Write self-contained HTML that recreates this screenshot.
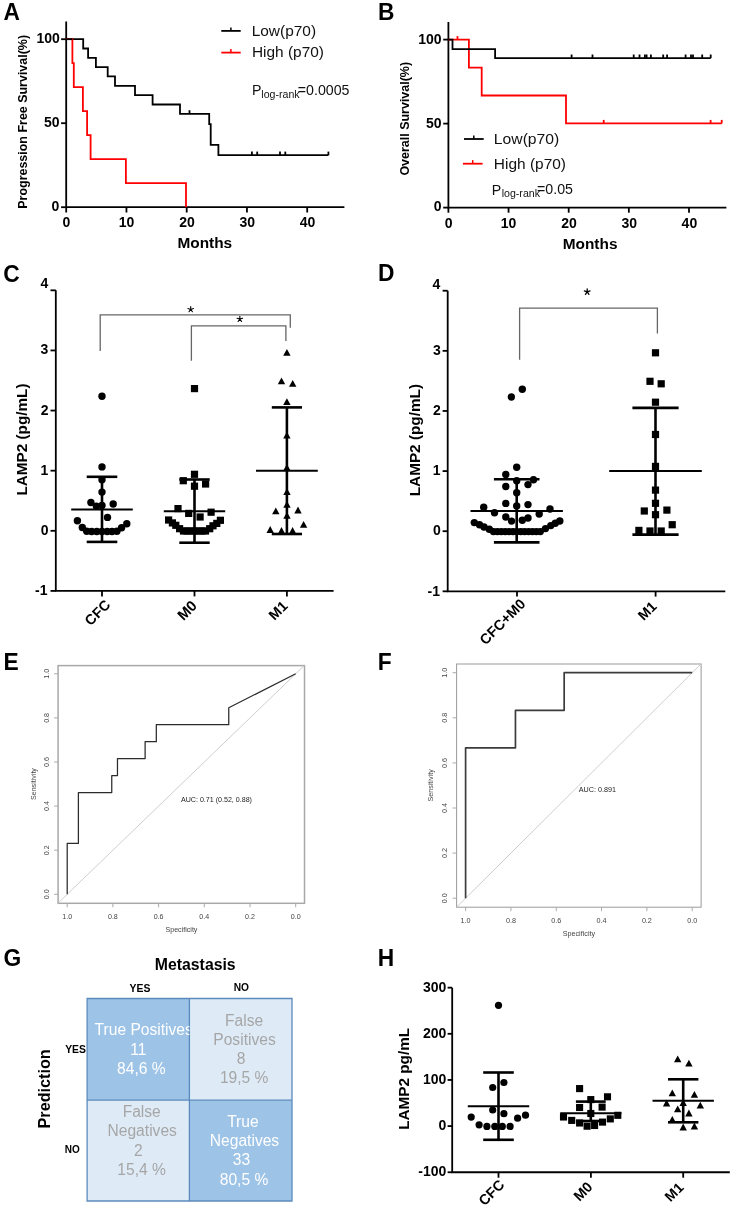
<!DOCTYPE html>
<html><head><meta charset="utf-8"><title>Figure</title>
<style>
html,body{margin:0;padding:0;background:#fff;}
svg{display:block;font-family:"Liberation Sans", sans-serif;will-change:transform;}
</style></head>
<body>
<svg width="733" height="1211" viewBox="0 0 733 1211">
<rect width="733" height="1211" fill="#fff"/>
<text transform="translate(3.44,20.00) scale(0.9500,1)" font-size="24.00" font-weight="bold" fill="#000">A</text>
<text transform="translate(378.11,19.80) scale(0.9500,1)" font-size="24.00" font-weight="bold" fill="#000">B</text>
<text transform="translate(3.17,281.56) scale(0.9500,1)" font-size="24.00" font-weight="bold" fill="#000">C</text>
<text transform="translate(378.06,281.30) scale(0.9500,1)" font-size="24.00" font-weight="bold" fill="#000">D</text>
<text transform="translate(3.48,669.80) scale(0.9500,1)" font-size="24.00" font-weight="bold" fill="#000">E</text>
<text transform="translate(377.70,669.80) scale(0.9500,1)" font-size="24.00" font-weight="bold" fill="#000">F</text>
<text transform="translate(3.59,966.06) scale(0.9500,1)" font-size="24.00" font-weight="bold" fill="#000">G</text>
<text transform="translate(377.79,966.00) scale(0.9500,1)" font-size="24.00" font-weight="bold" fill="#000">H</text>
<path d="M66.2 21.6V207.2H344.4" stroke="#000" stroke-width="1.8" fill="none" />
<line x1="61.10" y1="39.20" x2="66.20" y2="39.20" stroke="#000" stroke-width="1.8"/>
<line x1="61.10" y1="123.20" x2="66.20" y2="123.20" stroke="#000" stroke-width="1.8"/>
<line x1="61.10" y1="207.20" x2="66.20" y2="207.20" stroke="#000" stroke-width="1.8"/>
<text transform="translate(36.45,43.33) scale(1.0000,1)" font-size="14.00" font-weight="bold" fill="#000">100</text>
<text transform="translate(43.92,127.13) scale(1.0000,1)" font-size="14.00" font-weight="bold" fill="#000">50</text>
<text transform="translate(51.59,211.03) scale(1.0000,1)" font-size="14.00" font-weight="bold" fill="#000">0</text>
<line x1="66.20" y1="207.20" x2="66.20" y2="212.50" stroke="#000" stroke-width="1.8"/>
<text transform="translate(62.52,227.23) scale(1.0000,1)" font-size="14.00" font-weight="bold" fill="#000">0</text>
<line x1="126.45" y1="207.20" x2="126.45" y2="212.50" stroke="#000" stroke-width="1.8"/>
<text transform="translate(118.71,227.23) scale(1.0000,1)" font-size="14.00" font-weight="bold" fill="#000">10</text>
<line x1="186.70" y1="207.20" x2="186.70" y2="212.50" stroke="#000" stroke-width="1.8"/>
<text transform="translate(179.16,227.23) scale(1.0000,1)" font-size="14.00" font-weight="bold" fill="#000">20</text>
<line x1="246.95" y1="207.20" x2="246.95" y2="212.50" stroke="#000" stroke-width="1.8"/>
<text transform="translate(239.48,227.23) scale(1.0000,1)" font-size="14.00" font-weight="bold" fill="#000">30</text>
<line x1="307.20" y1="207.20" x2="307.20" y2="212.50" stroke="#000" stroke-width="1.8"/>
<text transform="translate(299.81,227.23) scale(1.0000,1)" font-size="14.00" font-weight="bold" fill="#000">40</text>
<text transform="translate(177.40,247.65) scale(1.0494,1)" font-size="14.69" font-weight="bold" fill="#000" >Months</text>
<text transform="translate(27.22,208.71) rotate(-90) scale(1.0131,1)" font-size="12.30" font-weight="bold" fill="#000" >Progression Free Survival(%)</text>
<path d="M66.2 39.2H83.2V48.5H88.1V57.8H95.9V67.2H107.7V76.4H115V85.8H135V95.2H152.6V104.5H180V113.8H209.2V124.1H210.7V144.8H218.4V155.2H328.4" stroke="#000" stroke-width="1.8" fill="none" />
<line x1="189.50" y1="113.80" x2="189.50" y2="110.20" stroke="#000" stroke-width="1.8"/>
<line x1="251.90" y1="155.20" x2="251.90" y2="151.60" stroke="#000" stroke-width="1.8"/>
<line x1="257.20" y1="155.20" x2="257.20" y2="151.60" stroke="#000" stroke-width="1.8"/>
<line x1="280.00" y1="155.20" x2="280.00" y2="151.60" stroke="#000" stroke-width="1.8"/>
<line x1="285.30" y1="155.20" x2="285.30" y2="151.60" stroke="#000" stroke-width="1.8"/>
<line x1="328.40" y1="155.20" x2="328.40" y2="151.60" stroke="#000" stroke-width="1.8"/>
<path d="M66.2 39.2H72.4V63.2H73.8V87.2H82.9V111.2H87.1V135.2H90.6V159.2H125.9V183.2H186V207.2" stroke="#ff0000" stroke-width="1.8" fill="none" />
<path d="M66.2 39.2H72.4" stroke="#000" stroke-width="1.8" fill="none" />
<line x1="221.30" y1="30.90" x2="240.70" y2="30.90" stroke="#000" stroke-width="1.8"/>
<line x1="230.90" y1="30.90" x2="230.90" y2="27.40" stroke="#000" stroke-width="1.5"/>
<line x1="221.30" y1="52.60" x2="240.70" y2="52.60" stroke="#ff0000" stroke-width="1.8"/>
<line x1="230.90" y1="52.60" x2="230.90" y2="49.10" stroke="#ff0000" stroke-width="1.5"/>
<text transform="translate(251.66,35.98) scale(1.0412,1)" font-size="14.87" fill="#111" >Low(p70)</text>
<text transform="translate(251.97,57.20) scale(1.0451,1)" font-size="14.76" fill="#111" >High (p70)</text>
<text transform="translate(251.96,94.60) scale(1.0000,1)" font-size="14.20" fill="#111">P</text>
<text transform="translate(261.31,97.67) scale(1.0000,1)" font-size="10.60" fill="#111">log-rank</text>
<text transform="translate(297.78,95.06) scale(1.0000,1)" font-size="14.20" fill="#111">=0.0005</text>
<path d="M448.4 22V207.6H726.4" stroke="#000" stroke-width="1.8" fill="none" />
<line x1="443.20" y1="39.60" x2="448.40" y2="39.60" stroke="#000" stroke-width="1.8"/>
<line x1="443.20" y1="123.60" x2="448.40" y2="123.60" stroke="#000" stroke-width="1.8"/>
<line x1="443.20" y1="207.60" x2="448.40" y2="207.60" stroke="#000" stroke-width="1.8"/>
<text transform="translate(418.25,43.63) scale(1.0000,1)" font-size="14.00" font-weight="bold" fill="#000">100</text>
<text transform="translate(426.02,127.73) scale(1.0000,1)" font-size="14.00" font-weight="bold" fill="#000">50</text>
<text transform="translate(433.79,211.13) scale(1.0000,1)" font-size="14.00" font-weight="bold" fill="#000">0</text>
<line x1="448.40" y1="207.60" x2="448.40" y2="212.70" stroke="#000" stroke-width="1.8"/>
<text transform="translate(444.71,227.63) scale(1.0000,1)" font-size="14.00" font-weight="bold" fill="#000">0</text>
<line x1="508.55" y1="207.60" x2="508.55" y2="212.70" stroke="#000" stroke-width="1.8"/>
<text transform="translate(500.80,227.63) scale(1.0000,1)" font-size="14.00" font-weight="bold" fill="#000">10</text>
<line x1="568.70" y1="207.60" x2="568.70" y2="212.70" stroke="#000" stroke-width="1.8"/>
<text transform="translate(561.16,227.63) scale(1.0000,1)" font-size="14.00" font-weight="bold" fill="#000">20</text>
<line x1="628.85" y1="207.60" x2="628.85" y2="212.70" stroke="#000" stroke-width="1.8"/>
<text transform="translate(621.38,227.63) scale(1.0000,1)" font-size="14.00" font-weight="bold" fill="#000">30</text>
<line x1="689.00" y1="207.60" x2="689.00" y2="212.70" stroke="#000" stroke-width="1.8"/>
<text transform="translate(681.61,227.63) scale(1.0000,1)" font-size="14.00" font-weight="bold" fill="#000">40</text>
<text transform="translate(562.70,249.25) scale(1.0490,1)" font-size="14.69" font-weight="bold" fill="#000" >Months</text>
<text transform="translate(409.44,175.60) rotate(-90) scale(1.0242,1)" font-size="12.19" font-weight="bold" fill="#000" >Overall Survival(%)</text>
<path d="M448.4 39.6H468.9V67.6H481.7V95.5H566.0V123.4H721.7" stroke="#ff0000" stroke-width="1.8" fill="none" />
<line x1="457.50" y1="39.60" x2="457.50" y2="36.10" stroke="#ff0000" stroke-width="1.8"/>
<line x1="603.70" y1="123.40" x2="603.70" y2="119.90" stroke="#ff0000" stroke-width="1.8"/>
<line x1="710.60" y1="123.40" x2="710.60" y2="119.90" stroke="#ff0000" stroke-width="1.8"/>
<line x1="721.70" y1="123.40" x2="721.70" y2="119.90" stroke="#ff0000" stroke-width="1.8"/>
<path d="M448.4 39.6H452.5V49.2H495.1V58.2H710.7" stroke="#000" stroke-width="1.8" fill="none" />
<line x1="571.60" y1="58.20" x2="571.60" y2="54.50" stroke="#000" stroke-width="1.8"/>
<line x1="592.50" y1="58.20" x2="592.50" y2="54.50" stroke="#000" stroke-width="1.8"/>
<line x1="633.70" y1="58.20" x2="633.70" y2="54.50" stroke="#000" stroke-width="1.8"/>
<line x1="639.50" y1="58.20" x2="639.50" y2="54.50" stroke="#000" stroke-width="1.8"/>
<line x1="644.90" y1="58.20" x2="644.90" y2="54.50" stroke="#000" stroke-width="1.8"/>
<line x1="646.60" y1="58.20" x2="646.60" y2="54.50" stroke="#000" stroke-width="1.8"/>
<line x1="650.90" y1="58.20" x2="650.90" y2="54.50" stroke="#000" stroke-width="1.8"/>
<line x1="663.20" y1="58.20" x2="663.20" y2="54.50" stroke="#000" stroke-width="1.8"/>
<line x1="667.10" y1="58.20" x2="667.10" y2="54.50" stroke="#000" stroke-width="1.8"/>
<line x1="685.60" y1="58.20" x2="685.60" y2="54.50" stroke="#000" stroke-width="1.8"/>
<line x1="691.00" y1="58.20" x2="691.00" y2="54.50" stroke="#000" stroke-width="1.8"/>
<line x1="693.00" y1="58.20" x2="693.00" y2="54.50" stroke="#000" stroke-width="1.8"/>
<line x1="702.20" y1="58.20" x2="702.20" y2="54.50" stroke="#000" stroke-width="1.8"/>
<line x1="710.70" y1="58.20" x2="710.70" y2="54.50" stroke="#000" stroke-width="1.8"/>
<line x1="464.00" y1="139.00" x2="483.70" y2="139.00" stroke="#000" stroke-width="1.8"/>
<line x1="473.80" y1="139.00" x2="473.80" y2="135.40" stroke="#000" stroke-width="1.5"/>
<line x1="462.90" y1="163.70" x2="482.60" y2="163.70" stroke="#ff0000" stroke-width="1.8"/>
<line x1="472.70" y1="163.70" x2="472.70" y2="160.10" stroke="#ff0000" stroke-width="1.5"/>
<text transform="translate(493.84,143.98) scale(1.0562,1)" font-size="14.87" fill="#111" >Low(p70)</text>
<text transform="translate(493.86,168.89) scale(1.0115,1)" font-size="15.29" fill="#111" >High (p70)</text>
<text transform="translate(491.86,194.60) scale(1.0000,1)" font-size="14.20" fill="#111">P</text>
<text transform="translate(501.71,197.37) scale(1.0000,1)" font-size="10.60" fill="#111">log-rank</text>
<text transform="translate(537.04,194.46) scale(1.0000,1)" font-size="14.20" fill="#111">=0.05</text>
<path d="M55.8 290.31999999999994V590.92H333.6" stroke="#000" stroke-width="1.8" fill="none" />
<line x1="50.50" y1="290.32" x2="55.80" y2="290.32" stroke="#000" stroke-width="1.8"/>
<line x1="50.50" y1="350.44" x2="55.80" y2="350.44" stroke="#000" stroke-width="1.8"/>
<line x1="50.50" y1="410.56" x2="55.80" y2="410.56" stroke="#000" stroke-width="1.8"/>
<line x1="50.50" y1="470.68" x2="55.80" y2="470.68" stroke="#000" stroke-width="1.8"/>
<line x1="50.50" y1="530.80" x2="55.80" y2="530.80" stroke="#000" stroke-width="1.8"/>
<line x1="50.50" y1="590.92" x2="55.80" y2="590.92" stroke="#000" stroke-width="1.8"/>
<text transform="translate(40.60,288.33) scale(1.0000,1)" font-size="14.00" font-weight="bold" fill="#000">4</text>
<text transform="translate(40.62,354.47) scale(1.0000,1)" font-size="14.00" font-weight="bold" fill="#000">3</text>
<text transform="translate(40.69,414.66) scale(1.0000,1)" font-size="14.00" font-weight="bold" fill="#000">2</text>
<text transform="translate(40.48,474.71) scale(1.0000,1)" font-size="14.00" font-weight="bold" fill="#000">1</text>
<text transform="translate(40.69,534.83) scale(1.0000,1)" font-size="14.00" font-weight="bold" fill="#000">0</text>
<text transform="translate(35.09,595.45) scale(1.0000,1)" font-size="14.00" font-weight="bold" fill="#000">-1</text>
<line x1="102.00" y1="590.92" x2="102.00" y2="596.40" stroke="#000" stroke-width="1.8"/>
<line x1="194.50" y1="590.92" x2="194.50" y2="596.40" stroke="#000" stroke-width="1.8"/>
<line x1="286.90" y1="590.92" x2="286.90" y2="596.40" stroke="#000" stroke-width="1.8"/>
<text transform="translate(27.21,495.59) rotate(-90) scale(1.0068,1)" font-size="15.19" font-weight="bold" fill="#000" >LAMP2 (pg/mL)</text>
<text transform="translate(111.40,605.70) rotate(-45)" font-size="14.31" font-weight="bold" text-anchor="end">CFC</text>
<text transform="translate(197.90,606.70) rotate(-45)" font-size="14.74" font-weight="bold" text-anchor="end">M0</text>
<text transform="translate(288.50,606.90) rotate(-45)" font-size="14.24" font-weight="bold" text-anchor="end">M1</text>
<path d="M100.2 351V314.8H290.3V327.7" stroke="#666" stroke-width="1.3" fill="none" />
<path d="M191.4 360.7V325.8H285.9V341" stroke="#666" stroke-width="1.3" fill="none" />
<path d="M190.70 309.40L190.70 306.50M190.70 309.40L193.46 308.50M190.70 309.40L192.40 311.75M190.70 309.40L189.00 311.75M190.70 309.40L187.94 308.50" stroke="#000" stroke-width="1.1" stroke-linecap="round" fill="none"/>
<path d="M239.85 319.10L239.85 316.20M239.85 319.10L242.61 318.20M239.85 319.10L241.55 321.45M239.85 319.10L238.15 321.45M239.85 319.10L237.09 318.20" stroke="#000" stroke-width="1.1" stroke-linecap="round" fill="none"/>
<g fill="#000">
<circle cx="102" cy="396.3" r="3.7"/>
<circle cx="102" cy="466.9" r="3.7"/>
<circle cx="102" cy="479.8" r="3.7"/>
<circle cx="102" cy="492.1" r="3.7"/>
<circle cx="90.9" cy="502.5" r="3.7"/>
<circle cx="96.4" cy="506.2" r="3.7"/>
<circle cx="102" cy="505.5" r="3.7"/>
<circle cx="113.2" cy="504" r="3.7"/>
<circle cx="107.5" cy="517.4" r="3.7"/>
<circle cx="77.4" cy="520.8" r="3.7"/>
<circle cx="82.3" cy="527.5" r="3.7"/>
<circle cx="86.7" cy="531.2" r="3.7"/>
<circle cx="91.6" cy="531.5" r="3.7"/>
<circle cx="96.8" cy="531.5" r="3.7"/>
<circle cx="102" cy="531.5" r="3.7"/>
<circle cx="107.2" cy="531.5" r="3.7"/>
<circle cx="112" cy="531.5" r="3.7"/>
<circle cx="116.9" cy="531.2" r="3.7"/>
<circle cx="121.6" cy="527.8" r="3.7"/>
<circle cx="126.8" cy="523.8" r="3.7"/>
</g>
<line x1="71.20" y1="509.50" x2="132.80" y2="509.50" stroke="#000" stroke-width="2.0"/>
<line x1="102.00" y1="476.80" x2="102.00" y2="541.90" stroke="#000" stroke-width="2.6"/>
<line x1="86.70" y1="476.80" x2="117.30" y2="476.80" stroke="#000" stroke-width="2.6"/>
<line x1="86.70" y1="541.90" x2="117.30" y2="541.90" stroke="#000" stroke-width="2.6"/>
<g fill="#000">
<rect x="190.90" y="385.00" width="7.2" height="7.2"/>
<rect x="190.90" y="470.70" width="7.2" height="7.2"/>
<rect x="179.70" y="477.10" width="7.2" height="7.2"/>
<rect x="202.00" y="480.40" width="7.2" height="7.2"/>
<rect x="190.90" y="482.60" width="7.2" height="7.2"/>
<rect x="174.40" y="505.00" width="7.2" height="7.2"/>
<rect x="185.10" y="509.80" width="7.2" height="7.2"/>
<rect x="207.50" y="508.60" width="7.2" height="7.2"/>
<rect x="196.50" y="513.40" width="7.2" height="7.2"/>
<rect x="165.00" y="516.40" width="7.2" height="7.2"/>
<rect x="216.80" y="516.70" width="7.2" height="7.2"/>
<rect x="168.80" y="519.30" width="7.2" height="7.2"/>
<rect x="172.20" y="521.70" width="7.2" height="7.2"/>
<rect x="176.00" y="525.10" width="7.2" height="7.2"/>
<rect x="179.90" y="527.40" width="7.2" height="7.2"/>
<rect x="183.40" y="527.40" width="7.2" height="7.2"/>
<rect x="186.90" y="527.40" width="7.2" height="7.2"/>
<rect x="190.90" y="527.40" width="7.2" height="7.2"/>
<rect x="194.90" y="527.40" width="7.2" height="7.2"/>
<rect x="198.40" y="527.40" width="7.2" height="7.2"/>
<rect x="201.90" y="527.40" width="7.2" height="7.2"/>
<rect x="206.10" y="525.10" width="7.2" height="7.2"/>
<rect x="209.40" y="522.20" width="7.2" height="7.2"/>
<rect x="213.20" y="519.80" width="7.2" height="7.2"/>
</g>
<line x1="163.80" y1="511.20" x2="225.20" y2="511.20" stroke="#000" stroke-width="2.0"/>
<line x1="194.50" y1="479.50" x2="194.50" y2="542.70" stroke="#000" stroke-width="2.6"/>
<line x1="179.30" y1="479.50" x2="209.70" y2="479.50" stroke="#000" stroke-width="2.6"/>
<line x1="179.30" y1="542.70" x2="209.70" y2="542.70" stroke="#000" stroke-width="2.6"/>
<g fill="#000">
<path d="M286.90 348.90L283.20 355.70L290.60 355.70Z"/>
<path d="M281.50 377.50L277.80 384.30L285.20 384.30Z"/>
<path d="M292.70 379.90L289.00 386.70L296.40 386.70Z"/>
<path d="M286.90 398.30L283.20 405.10L290.60 405.10Z"/>
<path d="M286.90 431.70L283.20 438.50L290.60 438.50Z"/>
<path d="M286.90 463.90L283.20 470.70L290.60 470.70Z"/>
<path d="M287.00 488.20L283.30 495.00L290.70 495.00Z"/>
<path d="M287.00 500.90L283.30 507.70L290.70 507.70Z"/>
<path d="M275.80 507.50L272.10 514.30L279.50 514.30Z"/>
<path d="M298.00 506.60L294.30 513.40L301.70 513.40Z"/>
<path d="M287.00 512.00L283.30 518.80L290.70 518.80Z"/>
<path d="M303.60 521.00L299.90 527.80L307.30 527.80Z"/>
<path d="M270.20 526.10L266.50 532.90L273.90 532.90Z"/>
<path d="M281.50 527.10L277.80 533.90L285.20 533.90Z"/>
<path d="M292.60 527.10L288.90 533.90L296.30 533.90Z"/>
</g>
<line x1="256.00" y1="470.80" x2="317.80" y2="470.80" stroke="#000" stroke-width="2.0"/>
<line x1="286.90" y1="407.40" x2="286.90" y2="534.00" stroke="#000" stroke-width="2.6"/>
<line x1="271.80" y1="407.40" x2="302.00" y2="407.40" stroke="#000" stroke-width="2.6"/>
<line x1="271.80" y1="534.00" x2="302.00" y2="534.00" stroke="#000" stroke-width="2.6"/>
<path d="M447.7 290.72V591.32H725.3" stroke="#000" stroke-width="1.8" fill="none" />
<line x1="442.60" y1="290.72" x2="447.70" y2="290.72" stroke="#000" stroke-width="1.8"/>
<line x1="442.60" y1="350.84" x2="447.70" y2="350.84" stroke="#000" stroke-width="1.8"/>
<line x1="442.60" y1="410.96" x2="447.70" y2="410.96" stroke="#000" stroke-width="1.8"/>
<line x1="442.60" y1="471.08" x2="447.70" y2="471.08" stroke="#000" stroke-width="1.8"/>
<line x1="442.60" y1="531.20" x2="447.70" y2="531.20" stroke="#000" stroke-width="1.8"/>
<line x1="442.60" y1="591.32" x2="447.70" y2="591.32" stroke="#000" stroke-width="1.8"/>
<text transform="translate(432.50,288.83) scale(1.0000,1)" font-size="14.00" font-weight="bold" fill="#000">4</text>
<text transform="translate(432.92,354.87) scale(1.0000,1)" font-size="14.00" font-weight="bold" fill="#000">3</text>
<text transform="translate(432.99,415.06) scale(1.0000,1)" font-size="14.00" font-weight="bold" fill="#000">2</text>
<text transform="translate(432.78,475.11) scale(1.0000,1)" font-size="14.00" font-weight="bold" fill="#000">1</text>
<text transform="translate(432.99,535.23) scale(1.0000,1)" font-size="14.00" font-weight="bold" fill="#000">0</text>
<text transform="translate(427.49,595.85) scale(1.0000,1)" font-size="14.00" font-weight="bold" fill="#000">-1</text>
<line x1="517.00" y1="591.32" x2="517.00" y2="596.60" stroke="#000" stroke-width="1.8"/>
<line x1="655.60" y1="591.32" x2="655.60" y2="596.60" stroke="#000" stroke-width="1.8"/>
<text transform="translate(419.88,496.30) rotate(-90) scale(1.0314,1)" font-size="14.87" font-weight="bold" fill="#000" >LAMP2 (pg/mL)</text>
<text transform="translate(526.30,604.90) rotate(-45)" font-size="14.32" font-weight="bold" text-anchor="end">CFC+M0</text>
<text transform="translate(657.70,607.30) rotate(-45)" font-size="14.19" font-weight="bold" text-anchor="end">M1</text>
<path d="M519.6 359.8V308.2H657.4V333.5" stroke="#666" stroke-width="1.3" fill="none" />
<path d="M587.20 291.90L587.20 288.90M587.20 291.90L590.05 290.97M587.20 291.90L588.96 294.33M587.20 291.90L585.44 294.33M587.20 291.90L584.35 290.97" stroke="#000" stroke-width="1.3" stroke-linecap="round" fill="none"/>
<g fill="#000">
<circle cx="522.3" cy="389.3" r="3.7"/>
<circle cx="511.3" cy="397" r="3.7"/>
<circle cx="516.7" cy="467.3" r="3.7"/>
<circle cx="505.8" cy="474.5" r="3.7"/>
<circle cx="516.7" cy="480.8" r="3.7"/>
<circle cx="533.5" cy="479.8" r="3.7"/>
<circle cx="505.8" cy="486.5" r="3.7"/>
<circle cx="528" cy="484.6" r="3.7"/>
<circle cx="516.7" cy="492.8" r="3.7"/>
<circle cx="505.8" cy="503.4" r="3.7"/>
<circle cx="516.7" cy="506" r="3.7"/>
<circle cx="528" cy="504.6" r="3.7"/>
<circle cx="483.7" cy="507.3" r="3.7"/>
<circle cx="494.5" cy="512.8" r="3.7"/>
<circle cx="550" cy="509" r="3.7"/>
<circle cx="539.2" cy="514" r="3.7"/>
<circle cx="505.8" cy="517" r="3.7"/>
<circle cx="511.5" cy="521.1" r="3.7"/>
<circle cx="522.3" cy="520.3" r="3.7"/>
<circle cx="528" cy="518" r="3.7"/>
<circle cx="474.3" cy="522.6" r="3.7"/>
<circle cx="479.5" cy="524.8" r="3.7"/>
<circle cx="484" cy="527" r="3.7"/>
<circle cx="489.3" cy="529.3" r="3.7"/>
<circle cx="493.5" cy="531.6" r="3.7"/>
<circle cx="497.4" cy="531.6" r="3.7"/>
<circle cx="501.3" cy="531.6" r="3.7"/>
<circle cx="505.2" cy="531.6" r="3.7"/>
<circle cx="509.1" cy="531.6" r="3.7"/>
<circle cx="513.0" cy="531.6" r="3.7"/>
<circle cx="516.9" cy="531.6" r="3.7"/>
<circle cx="520.8" cy="531.6" r="3.7"/>
<circle cx="524.7" cy="531.6" r="3.7"/>
<circle cx="528.6" cy="531.6" r="3.7"/>
<circle cx="532.5" cy="531.6" r="3.7"/>
<circle cx="536.4" cy="531.6" r="3.7"/>
<circle cx="540.3" cy="531.6" r="3.7"/>
<circle cx="545.5" cy="528.6" r="3.7"/>
<circle cx="550.8" cy="525.6" r="3.7"/>
<circle cx="555.3" cy="523.3" r="3.7"/>
<circle cx="559.8" cy="521" r="3.7"/>
</g>
<line x1="470.50" y1="511.00" x2="562.90" y2="511.00" stroke="#000" stroke-width="2.0"/>
<line x1="516.70" y1="479.30" x2="516.70" y2="542.40" stroke="#000" stroke-width="2.6"/>
<line x1="493.90" y1="479.30" x2="539.50" y2="479.30" stroke="#000" stroke-width="2.6"/>
<line x1="493.90" y1="542.40" x2="539.50" y2="542.40" stroke="#000" stroke-width="2.6"/>
<g fill="#000">
<rect x="651.90" y="349.20" width="7.2" height="7.2"/>
<rect x="646.40" y="377.70" width="7.2" height="7.2"/>
<rect x="657.60" y="380.20" width="7.2" height="7.2"/>
<rect x="651.90" y="398.60" width="7.2" height="7.2"/>
<rect x="651.90" y="430.90" width="7.2" height="7.2"/>
<rect x="651.90" y="462.80" width="7.2" height="7.2"/>
<rect x="651.90" y="486.50" width="7.2" height="7.2"/>
<rect x="651.90" y="499.70" width="7.2" height="7.2"/>
<rect x="640.70" y="507.40" width="7.2" height="7.2"/>
<rect x="663.30" y="506.50" width="7.2" height="7.2"/>
<rect x="651.90" y="511.10" width="7.2" height="7.2"/>
<rect x="668.60" y="521.10" width="7.2" height="7.2"/>
<rect x="635.30" y="526.80" width="7.2" height="7.2"/>
<rect x="646.40" y="527.40" width="7.2" height="7.2"/>
<rect x="657.60" y="527.40" width="7.2" height="7.2"/>
</g>
<line x1="609.20" y1="471.10" x2="701.80" y2="471.10" stroke="#000" stroke-width="2.0"/>
<line x1="655.50" y1="407.90" x2="655.50" y2="534.60" stroke="#000" stroke-width="2.6"/>
<line x1="632.40" y1="407.90" x2="678.60" y2="407.90" stroke="#000" stroke-width="2.6"/>
<line x1="632.40" y1="534.60" x2="678.60" y2="534.60" stroke="#000" stroke-width="2.6"/>
<rect x="58.1" y="665.6" width="246.40" height="237.70" fill="none" stroke="#a8a8a8" stroke-width="1.5"/>
<line x1="58.1" y1="903.08" x2="304.5" y2="665.31" stroke="#c8c8c8" stroke-width="0.9"/>
<line x1="54.10" y1="894.30" x2="58.10" y2="894.30" stroke="#aaa" stroke-width="1.0"/>
<text transform="translate(48.60,894.30) rotate(-90)" font-size="7.1" text-anchor="middle" fill="#444">0.0</text>
<line x1="67.20" y1="903.30" x2="67.20" y2="907.30" stroke="#aaa" stroke-width="1.0"/>
<text x="67.20" y="919.10" font-size="7.1" text-anchor="middle" fill="#444" >1.0</text>
<line x1="54.10" y1="850.20" x2="58.10" y2="850.20" stroke="#aaa" stroke-width="1.0"/>
<text transform="translate(48.60,850.20) rotate(-90)" font-size="7.1" text-anchor="middle" fill="#444">0.2</text>
<line x1="112.90" y1="903.30" x2="112.90" y2="907.30" stroke="#aaa" stroke-width="1.0"/>
<text x="112.90" y="919.10" font-size="7.1" text-anchor="middle" fill="#444" >0.8</text>
<line x1="54.10" y1="806.10" x2="58.10" y2="806.10" stroke="#aaa" stroke-width="1.0"/>
<text transform="translate(48.60,806.10) rotate(-90)" font-size="7.1" text-anchor="middle" fill="#444">0.4</text>
<line x1="158.60" y1="903.30" x2="158.60" y2="907.30" stroke="#aaa" stroke-width="1.0"/>
<text x="158.60" y="919.10" font-size="7.1" text-anchor="middle" fill="#444" >0.6</text>
<line x1="54.10" y1="762.00" x2="58.10" y2="762.00" stroke="#aaa" stroke-width="1.0"/>
<text transform="translate(48.60,762.00) rotate(-90)" font-size="7.1" text-anchor="middle" fill="#444">0.6</text>
<line x1="204.30" y1="903.30" x2="204.30" y2="907.30" stroke="#aaa" stroke-width="1.0"/>
<text x="204.30" y="919.10" font-size="7.1" text-anchor="middle" fill="#444" >0.4</text>
<line x1="54.10" y1="717.90" x2="58.10" y2="717.90" stroke="#aaa" stroke-width="1.0"/>
<text transform="translate(48.60,717.90) rotate(-90)" font-size="7.1" text-anchor="middle" fill="#444">0.8</text>
<line x1="250.00" y1="903.30" x2="250.00" y2="907.30" stroke="#aaa" stroke-width="1.0"/>
<text x="250.00" y="919.10" font-size="7.1" text-anchor="middle" fill="#444" >0.2</text>
<line x1="54.10" y1="673.80" x2="58.10" y2="673.80" stroke="#aaa" stroke-width="1.0"/>
<text transform="translate(48.60,673.80) rotate(-90)" font-size="7.1" text-anchor="middle" fill="#444">1.0</text>
<line x1="295.70" y1="903.30" x2="295.70" y2="907.30" stroke="#aaa" stroke-width="1.0"/>
<text x="295.70" y="919.10" font-size="7.1" text-anchor="middle" fill="#444" >0.0</text>
<text x="181.45" y="931.70" font-size="7.1" text-anchor="middle" fill="#444" >Specificity</text>
<text transform="translate(36.00,784.05) rotate(-90)" font-size="7.1" text-anchor="middle" fill="#444">Sensitivity</text>
<text x="181.00" y="801.80" font-size="7.1" text-anchor="start" fill="#222" >AUC: 0.71 (0.52, 0.88)</text>
<path d="M67.20 894.30 L67.20 843.42 L78.40 843.42 L78.40 792.53 L111.76 792.53 L111.76 775.57 L117.47 775.57 L117.47 758.61 L145.12 758.61 L145.12 741.65 L156.31 741.65 L156.31 724.68 L228.75 724.68 L228.75 707.72 L295.70 673.80" stroke="#2b2b2b" stroke-width="1.25" fill="none" stroke-linejoin="round"/>
<rect x="456.6" y="664.0" width="244.50" height="243.20" fill="none" stroke="#9a9a9a" stroke-width="1.0"/>
<line x1="456.6" y1="907.16" x2="701.1" y2="663.84" stroke="#c8c8c8" stroke-width="0.9"/>
<line x1="452.60" y1="898.20" x2="456.60" y2="898.20" stroke="#aaa" stroke-width="1.0"/>
<text transform="translate(447.20,898.20) rotate(-90)" font-size="7.2" text-anchor="middle" fill="#444">0.0</text>
<line x1="465.60" y1="907.20" x2="465.60" y2="911.20" stroke="#aaa" stroke-width="1.0"/>
<text x="465.60" y="923.20" font-size="7.2" text-anchor="middle" fill="#444" >1.0</text>
<line x1="452.60" y1="853.10" x2="456.60" y2="853.10" stroke="#aaa" stroke-width="1.0"/>
<text transform="translate(447.20,853.10) rotate(-90)" font-size="7.2" text-anchor="middle" fill="#444">0.2</text>
<line x1="510.92" y1="907.20" x2="510.92" y2="911.20" stroke="#aaa" stroke-width="1.0"/>
<text x="510.92" y="923.20" font-size="7.2" text-anchor="middle" fill="#444" >0.8</text>
<line x1="452.60" y1="808.00" x2="456.60" y2="808.00" stroke="#aaa" stroke-width="1.0"/>
<text transform="translate(447.20,808.00) rotate(-90)" font-size="7.2" text-anchor="middle" fill="#444">0.4</text>
<line x1="556.24" y1="907.20" x2="556.24" y2="911.20" stroke="#aaa" stroke-width="1.0"/>
<text x="556.24" y="923.20" font-size="7.2" text-anchor="middle" fill="#444" >0.6</text>
<line x1="452.60" y1="762.90" x2="456.60" y2="762.90" stroke="#aaa" stroke-width="1.0"/>
<text transform="translate(447.20,762.90) rotate(-90)" font-size="7.2" text-anchor="middle" fill="#444">0.6</text>
<line x1="601.56" y1="907.20" x2="601.56" y2="911.20" stroke="#aaa" stroke-width="1.0"/>
<text x="601.56" y="923.20" font-size="7.2" text-anchor="middle" fill="#444" >0.4</text>
<line x1="452.60" y1="717.80" x2="456.60" y2="717.80" stroke="#aaa" stroke-width="1.0"/>
<text transform="translate(447.20,717.80) rotate(-90)" font-size="7.2" text-anchor="middle" fill="#444">0.8</text>
<line x1="646.88" y1="907.20" x2="646.88" y2="911.20" stroke="#aaa" stroke-width="1.0"/>
<text x="646.88" y="923.20" font-size="7.2" text-anchor="middle" fill="#444" >0.2</text>
<line x1="452.60" y1="672.70" x2="456.60" y2="672.70" stroke="#aaa" stroke-width="1.0"/>
<text transform="translate(447.20,672.70) rotate(-90)" font-size="7.2" text-anchor="middle" fill="#444">1.0</text>
<line x1="692.20" y1="907.20" x2="692.20" y2="911.20" stroke="#aaa" stroke-width="1.0"/>
<text x="692.20" y="923.20" font-size="7.2" text-anchor="middle" fill="#444" >0.0</text>
<text x="578.90" y="936.30" font-size="7.2" text-anchor="middle" fill="#444" >Specificity</text>
<text transform="translate(433.30,785.45) rotate(-90)" font-size="7.2" text-anchor="middle" fill="#444">Sensitivity</text>
<text x="578.80" y="792.00" font-size="7.2" text-anchor="start" fill="#222" >AUC: 0.891</text>
<path d="M465.60 898.20 L465.60 747.87 L515.45 747.87 L515.45 710.28 L564.17 710.28 L564.17 672.70 L692.20 672.70" stroke="#3c3c3c" stroke-width="1.7" fill="none" stroke-linejoin="round"/>
<rect x="87.1" y="998.5" width="102.3" height="101.7" fill="#9dc3e6"/>
<rect x="189.4" y="998.5" width="102.6" height="101.7" fill="#deebf7"/>
<rect x="87.1" y="1100.2" width="102.3" height="100.8" fill="#deebf7"/>
<rect x="189.4" y="1100.2" width="102.6" height="100.8" fill="#9dc3e6"/>
<path d="M87.1 998.5H292V1201H87.1Z M189.4 998.5V1201 M87.1 1100.2H292" stroke="#5b8bbd" stroke-width="1.3" fill="none"/>
<text transform="translate(154.84,970.24) scale(1.0000,1)" font-size="15.80" font-weight="bold" fill="#000">Metastasis</text>
<text transform="translate(129.58,992.40) scale(1.0000,1)" font-size="10.40" font-weight="bold" fill="#000">YES</text>
<text transform="translate(233.75,990.60) scale(1.0000,1)" font-size="10.20" font-weight="bold" fill="#000">NO</text>
<text transform="translate(65.19,1052.60) scale(1.0000,1)" font-size="10.40" font-weight="bold" fill="#000">YES</text>
<text transform="translate(64.75,1153.30) scale(1.0000,1)" font-size="10.00" font-weight="bold" fill="#000">NO</text>
<text transform="translate(50.34,1128.45) rotate(-90) scale(1.0092,1)" font-size="16.05" font-weight="bold" fill="#000" >Prediction</text>
<clipPath id="c1"><rect x="87.1" y="998.5" width="102.3" height="101.7"/></clipPath>
<g clip-path="url(#c1)">
<text x="94.60" y="1035.40" font-size="15.6" text-anchor="start" fill="#fff" >True Positives</text>
</g>
<text x="138.40" y="1054.70" font-size="15.6" text-anchor="middle" fill="#fff" >11</text>
<text x="141.40" y="1074.00" font-size="15.6" text-anchor="middle" fill="#fff" >84,6 %</text>
<text x="244.10" y="1025.70" font-size="15.6" text-anchor="middle" fill="#a6a6a6" >False</text>
<text x="244.50" y="1044.50" font-size="15.6" text-anchor="middle" fill="#a6a6a6" >Positives</text>
<text x="241.00" y="1063.70" font-size="15.6" text-anchor="middle" fill="#a6a6a6" >8</text>
<text x="244.20" y="1083.30" font-size="15.6" text-anchor="middle" fill="#a6a6a6" >19,5 %</text>
<text x="141.70" y="1117.00" font-size="15.6" text-anchor="middle" fill="#a6a6a6" >False</text>
<text x="142.20" y="1136.20" font-size="15.6" text-anchor="middle" fill="#a6a6a6" >Negatives</text>
<text x="138.40" y="1155.50" font-size="15.6" text-anchor="middle" fill="#a6a6a6" >2</text>
<text x="141.60" y="1174.80" font-size="15.6" text-anchor="middle" fill="#a6a6a6" >15,4 %</text>
<text x="242.90" y="1126.80" font-size="15.6" text-anchor="middle" fill="#fff" >True</text>
<text x="244.50" y="1145.70" font-size="15.6" text-anchor="middle" fill="#fff" >Negatives</text>
<text x="241.40" y="1165.30" font-size="15.6" text-anchor="middle" fill="#fff" >33</text>
<text x="244.00" y="1184.60" font-size="15.6" text-anchor="middle" fill="#fff" >80,5 %</text>
<path d="M452.2 987.6499999999999V1172.25H729.8" stroke="#000" stroke-width="1.8" fill="none" />
<line x1="447.60" y1="987.65" x2="452.20" y2="987.65" stroke="#000" stroke-width="1.8"/>
<text transform="translate(423.05,991.68) scale(1.0000,1)" font-size="14.00" font-weight="bold" fill="#000">300</text>
<line x1="447.60" y1="1033.80" x2="452.20" y2="1033.80" stroke="#000" stroke-width="1.8"/>
<text transform="translate(423.05,1037.83) scale(1.0000,1)" font-size="14.00" font-weight="bold" fill="#000">200</text>
<line x1="447.60" y1="1079.95" x2="452.20" y2="1079.95" stroke="#000" stroke-width="1.8"/>
<text transform="translate(423.05,1083.98) scale(1.0000,1)" font-size="14.00" font-weight="bold" fill="#000">100</text>
<line x1="447.60" y1="1126.10" x2="452.20" y2="1126.10" stroke="#000" stroke-width="1.8"/>
<text transform="translate(438.59,1130.13) scale(1.0000,1)" font-size="14.00" font-weight="bold" fill="#000">0</text>
<line x1="447.60" y1="1172.25" x2="452.20" y2="1172.25" stroke="#000" stroke-width="1.8"/>
<text transform="translate(418.36,1176.28) scale(1.0000,1)" font-size="14.00" font-weight="bold" fill="#000">-100</text>
<line x1="498.50" y1="1172.25" x2="498.50" y2="1177.70" stroke="#000" stroke-width="1.8"/>
<line x1="590.90" y1="1172.25" x2="590.90" y2="1177.70" stroke="#000" stroke-width="1.8"/>
<line x1="683.20" y1="1172.25" x2="683.20" y2="1177.70" stroke="#000" stroke-width="1.8"/>
<text transform="translate(408.66,1129.79) rotate(-90) scale(1.0216,1)" font-size="14.97" font-weight="bold" fill="#000" >LAMP2 pg/mL</text>
<text transform="translate(505.30,1185.60) rotate(-45)" font-size="14.40" font-weight="bold" text-anchor="end">CFC</text>
<text transform="translate(593.50,1187.80) rotate(-45)" font-size="14.35" font-weight="bold" text-anchor="end">M0</text>
<text transform="translate(684.50,1188.50) rotate(-45)" font-size="14.13" font-weight="bold" text-anchor="end">M1</text>
<g fill="#000">
<circle cx="498.5" cy="1005.3" r="3.6"/>
<circle cx="503.9" cy="1082.5" r="3.6"/>
<circle cx="492.7" cy="1087.5" r="3.6"/>
<circle cx="492.7" cy="1110" r="3.6"/>
<circle cx="503.9" cy="1113.7" r="3.6"/>
<circle cx="471.2" cy="1117.1" r="3.6"/>
<circle cx="525.5" cy="1115.2" r="3.6"/>
<circle cx="517.6" cy="1118.2" r="3.6"/>
<circle cx="479.1" cy="1124.8" r="3.6"/>
<circle cx="486.9" cy="1126.4" r="3.6"/>
<circle cx="494.8" cy="1126.4" r="3.6"/>
<circle cx="502.3" cy="1126.4" r="3.6"/>
<circle cx="510.1" cy="1126.4" r="3.6"/>
</g>
<line x1="467.80" y1="1106.20" x2="529.20" y2="1106.20" stroke="#000" stroke-width="2.0"/>
<line x1="498.50" y1="1072.50" x2="498.50" y2="1139.80" stroke="#000" stroke-width="2.6"/>
<line x1="483.20" y1="1072.50" x2="513.80" y2="1072.50" stroke="#000" stroke-width="2.6"/>
<line x1="483.20" y1="1139.80" x2="513.80" y2="1139.80" stroke="#000" stroke-width="2.6"/>
<g fill="#000">
<rect x="576.05" y="1085.05" width="7.1" height="7.1"/>
<rect x="603.95" y="1093.25" width="7.1" height="7.1"/>
<rect x="587.25" y="1096.05" width="7.1" height="7.1"/>
<rect x="576.05" y="1103.95" width="7.1" height="7.1"/>
<rect x="598.55" y="1103.55" width="7.1" height="7.1"/>
<rect x="587.25" y="1109.95" width="7.1" height="7.1"/>
<rect x="559.95" y="1113.45" width="7.1" height="7.1"/>
<rect x="614.25" y="1111.75" width="7.1" height="7.1"/>
<rect x="568.15" y="1116.85" width="7.1" height="7.1"/>
<rect x="606.75" y="1115.35" width="7.1" height="7.1"/>
<rect x="576.05" y="1119.45" width="7.1" height="7.1"/>
<rect x="598.95" y="1118.55" width="7.1" height="7.1"/>
<rect x="583.55" y="1122.65" width="7.1" height="7.1"/>
<rect x="591.05" y="1121.95" width="7.1" height="7.1"/>
</g>
<line x1="560.20" y1="1113.20" x2="621.40" y2="1113.20" stroke="#000" stroke-width="2.0"/>
<line x1="590.80" y1="1101.60" x2="590.80" y2="1121.00" stroke="#000" stroke-width="2.6"/>
<line x1="575.90" y1="1101.60" x2="605.70" y2="1101.60" stroke="#000" stroke-width="2.6"/>
<line x1="575.90" y1="1121.00" x2="605.70" y2="1121.00" stroke="#000" stroke-width="2.6"/>
<g fill="#000">
<path d="M677.70 1055.40L674.00 1062.20L681.40 1062.20Z"/>
<path d="M688.90 1059.80L685.20 1066.60L692.60 1066.60Z"/>
<path d="M672.30 1089.50L668.60 1096.30L676.00 1096.30Z"/>
<path d="M694.40 1090.90L690.70 1097.70L698.10 1097.70Z"/>
<path d="M666.60 1099.60L662.90 1106.40L670.30 1106.40Z"/>
<path d="M683.20 1099.10L679.50 1105.90L686.90 1105.90Z"/>
<path d="M700.30 1101.80L696.60 1108.60L704.00 1108.60Z"/>
<path d="M677.70 1105.50L674.00 1112.30L681.40 1112.30Z"/>
<path d="M688.90 1109.60L685.20 1116.40L692.60 1116.40Z"/>
<path d="M672.30 1116.00L668.60 1122.80L676.00 1122.80Z"/>
<path d="M683.20 1123.60L679.50 1130.40L686.90 1130.40Z"/>
<path d="M694.40 1122.60L690.70 1129.40L698.10 1129.40Z"/>
</g>
<line x1="652.50" y1="1100.70" x2="713.90" y2="1100.70" stroke="#000" stroke-width="2.0"/>
<line x1="683.20" y1="1079.30" x2="683.20" y2="1122.30" stroke="#000" stroke-width="2.6"/>
<line x1="668.00" y1="1079.30" x2="698.40" y2="1079.30" stroke="#000" stroke-width="2.6"/>
<line x1="668.00" y1="1122.30" x2="698.40" y2="1122.30" stroke="#000" stroke-width="2.6"/>
</svg>
</body></html>
